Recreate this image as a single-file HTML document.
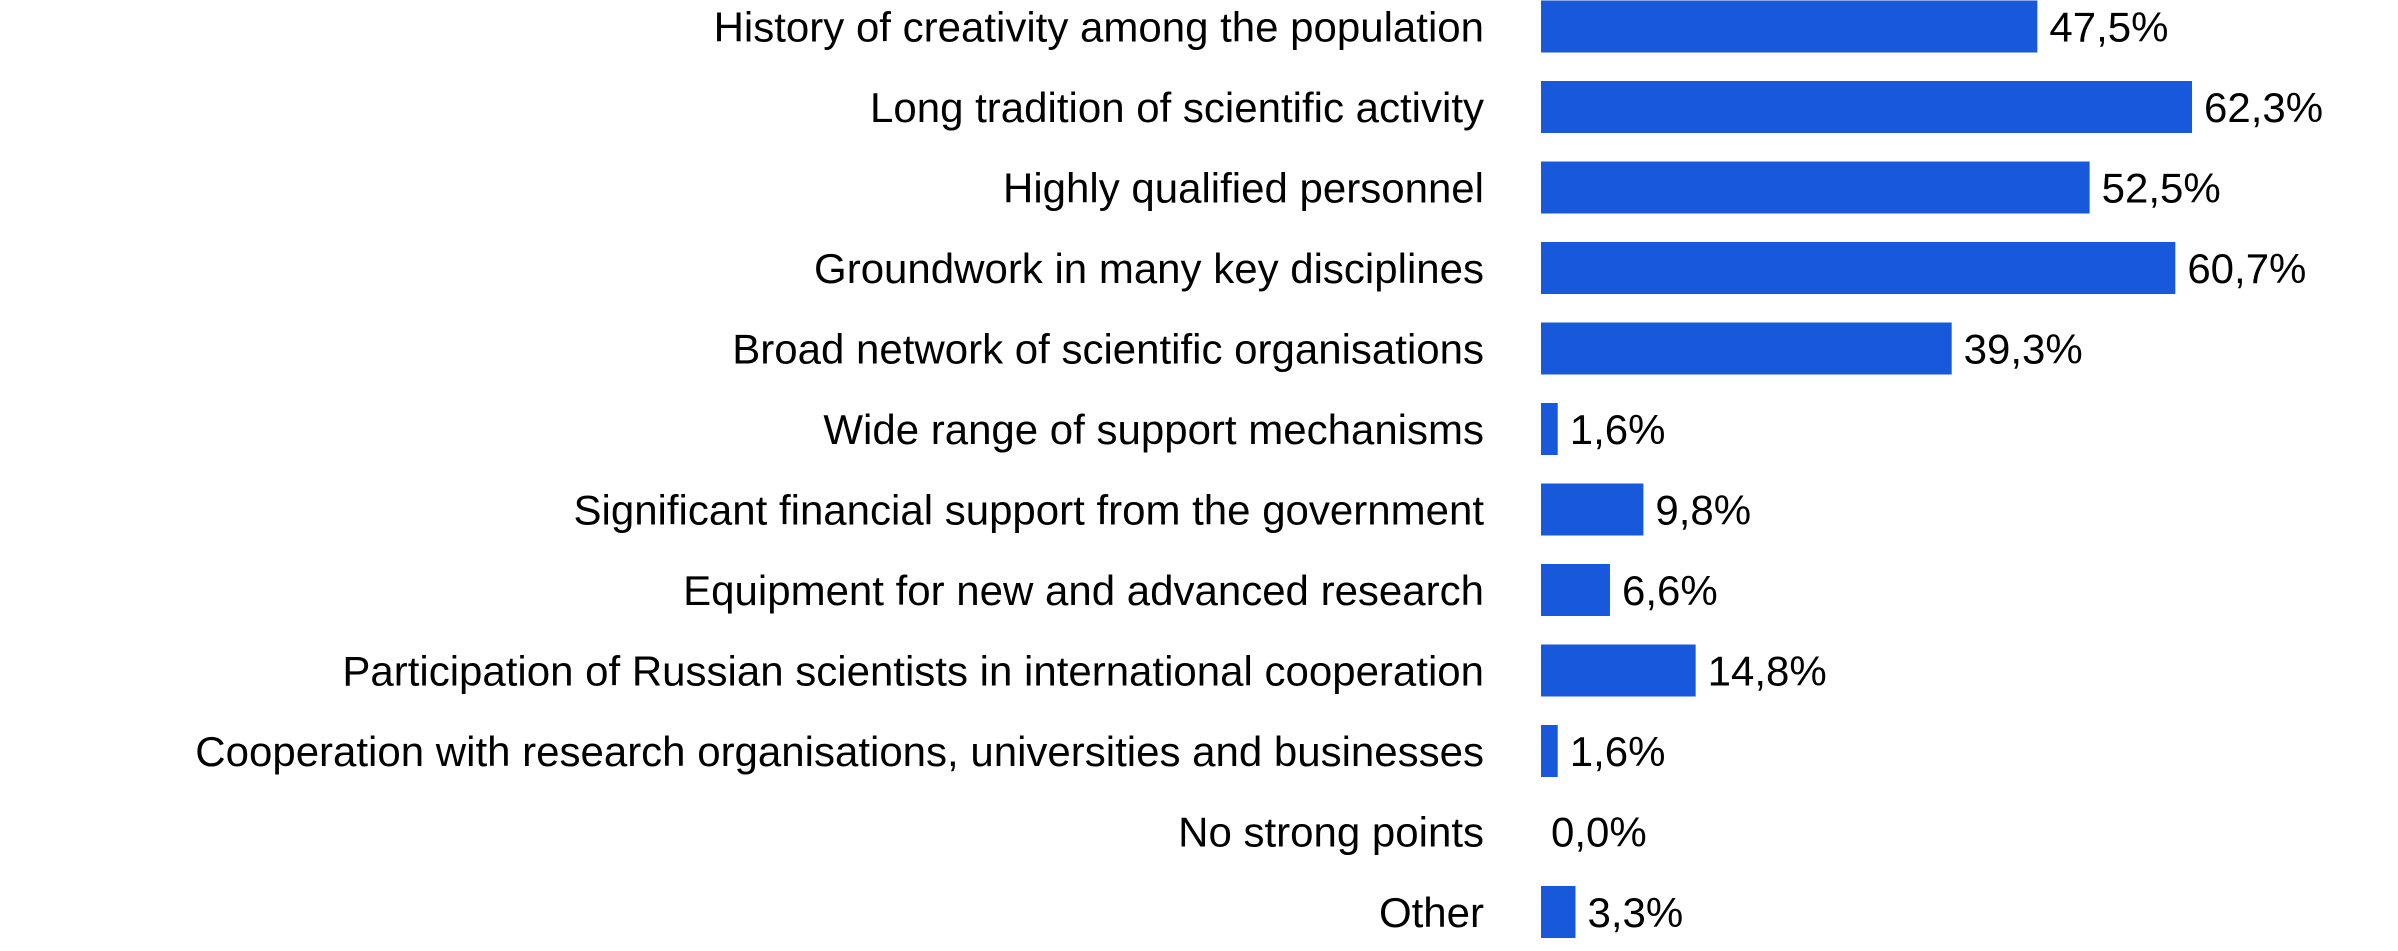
<!DOCTYPE html>
<html><head><meta charset="utf-8"><style>
body{margin:0;background:#fff;width:2398px;height:946px;overflow:hidden}
svg text{font-family:"Liberation Sans",Arial,sans-serif;font-size:42px;fill:#000}
</style></head><body>
<svg id="chart" width="2398" height="946" xmlns="http://www.w3.org/2000/svg"></svg>
<script>
const categories=["History of creativity among the population","Long tradition of scientific activity","Highly qualified personnel","Groundwork in many key disciplines","Broad network of scientific organisations","Wide range of support mechanisms","Significant financial support from the government","Equipment for new and advanced research","Participation of Russian scientists in international cooperation","Cooperation with research organisations, universities and businesses","No strong points","Other"];
const values=[47.5,62.3,52.5,60.7,39.3,1.6,9.8,6.6,14.8,1.6,0.0,3.3];
const valueLabels=["47,5%","62,3%","52,5%","60,7%","39,3%","1,6%","9,8%","6,6%","14,8%","1,6%","0,0%","3,3%"];
const svg=document.getElementById('chart');
const NS='http://www.w3.org/2000/svg';
const x0=1541,pxPer=10.45,top0=0.5,pitch=80.5,bh=52;
const xScale=v=>v*pxPer;
const yScale=i=>top0+i*pitch;
categories.forEach((c,i)=>{
  const y=yScale(i),cy=y+bh/2;
  const t=document.createElementNS(NS,'text');
  
  
  t.setAttribute('x',1484);t.setAttribute('y',cy+15);t.setAttribute('text-anchor','end');
  t.textContent=c;svg.appendChild(t);
  const w=xScale(values[i]);
  if(w>0){
    const r=document.createElementNS(NS,'rect');
    
    
    r.setAttribute('x',x0);r.setAttribute('y',y);r.setAttribute('width',w);r.setAttribute('height',bh);r.setAttribute('fill','#1859db');
    svg.appendChild(r);
  }
  const v=document.createElementNS(NS,'text');
  
  
  v.setAttribute('x',x0+w+(w>0?12:10));v.setAttribute('y',cy+15);
  v.textContent=valueLabels[i];svg.appendChild(v);
});
</script>
</body></html>
